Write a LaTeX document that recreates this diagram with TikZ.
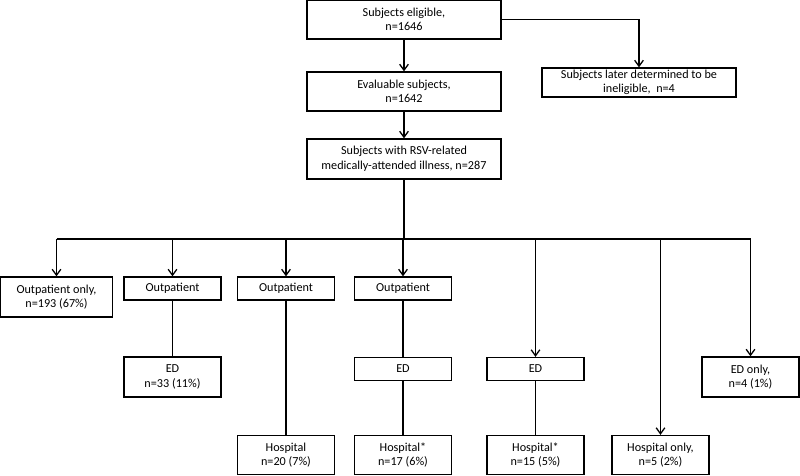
\documentclass[tikz,border=0pt]{standalone}
\usepackage{fontspec}
\setmainfont{Carlito}
\usetikzlibrary{arrows.meta}

\begin{document}
\begin{tikzpicture}[x=0.03cm, y=-0.03cm, line width=1.1pt,
  box/.style={draw, align=center, inner sep=0pt, minimum width=2.91cm,
    font=\fontsize{10.4}{12.4}\selectfont},
  wide/.style={box, minimum width=5.82cm},
  one/.style={minimum height=0.69cm},
  two/.style={minimum height=1.2cm},
  arr/.style={-{Straight Barb[length=1.8mm, width=2.6mm]}}]
  \useasboundingbox (0,0) rectangle (800,476);

  % study population
  \node[wide, minimum height=1.17cm] (elig) at (404,19.5) {Subjects eligible,\\n=1646};
  \node[wide, minimum height=0.87cm] (inel) at (639,82.5) {Subjects later determined to be\\ineligible,~ n=4};
  \node[wide, minimum height=1.17cm] (eval) at (404,91.5) {Evaluable subjects,\\n=1642};
  \node[wide, two] (rsv) at (404,159) {Subjects with RSV-related\\medically-attended illness, n=287};

  % first level of care
  \node[box, two, minimum width=3.36cm] (opo) at (56.5,297) {Outpatient only,\\n=193 (67\%)};
  \node[box, one] (op1) at (172.5,288.5) {Outpatient};
  \node[box, one] (op2) at (286,288.5) {Outpatient};
  \node[box, one] (op3) at (403,288.5) {Outpatient};

  \node[box, two] (ed1) at (172.5,377) {ED\\n=33 (11\%)};
  \node[box, one] (ed2) at (403,369) {ED};
  \node[box, one] (ed3) at (535.5,369) {ED};
  \node[box, two] (edo) at (750.5,377) {ED only,\\n=4 (1\%)};

  \node[box, minimum height=1.17cm] (hos1) at (286,455) {Hospital\\n=20 (7\%)};
  \node[box, minimum height=1.17cm] (hos2) at (403,455) {Hospital*\\n=17 (6\%)};
  \node[box, minimum height=1.17cm] (hos3) at (535.5,455) {Hospital*\\n=15 (5\%)};
  \node[box, minimum height=1.17cm] (hoso) at (660.5,455) {Hospital only,\\n=5 (2\%)};

  \draw[arr] (elig) -- (eval);
  \draw[arr] (eval) -- (rsv);
  \draw[arr] (elig.east) -| (inel);

  \coordinate (split) at (404,239);
  \draw (rsv) -- (split);
  \draw (split -| opo) -- (split -| edo);
  \foreach \b in {opo,op1,op2,op3,ed3,hoso,edo}
    \draw[arr] (split -| \b) -- (\b);

  \draw (op1) -- (ed1);
  \draw (op2) -- (hos1);
  \draw (op3) -- (ed2) (ed2) -- (hos2);
  \draw (ed3) -- (hos3);
\end{tikzpicture}
\end{document}
